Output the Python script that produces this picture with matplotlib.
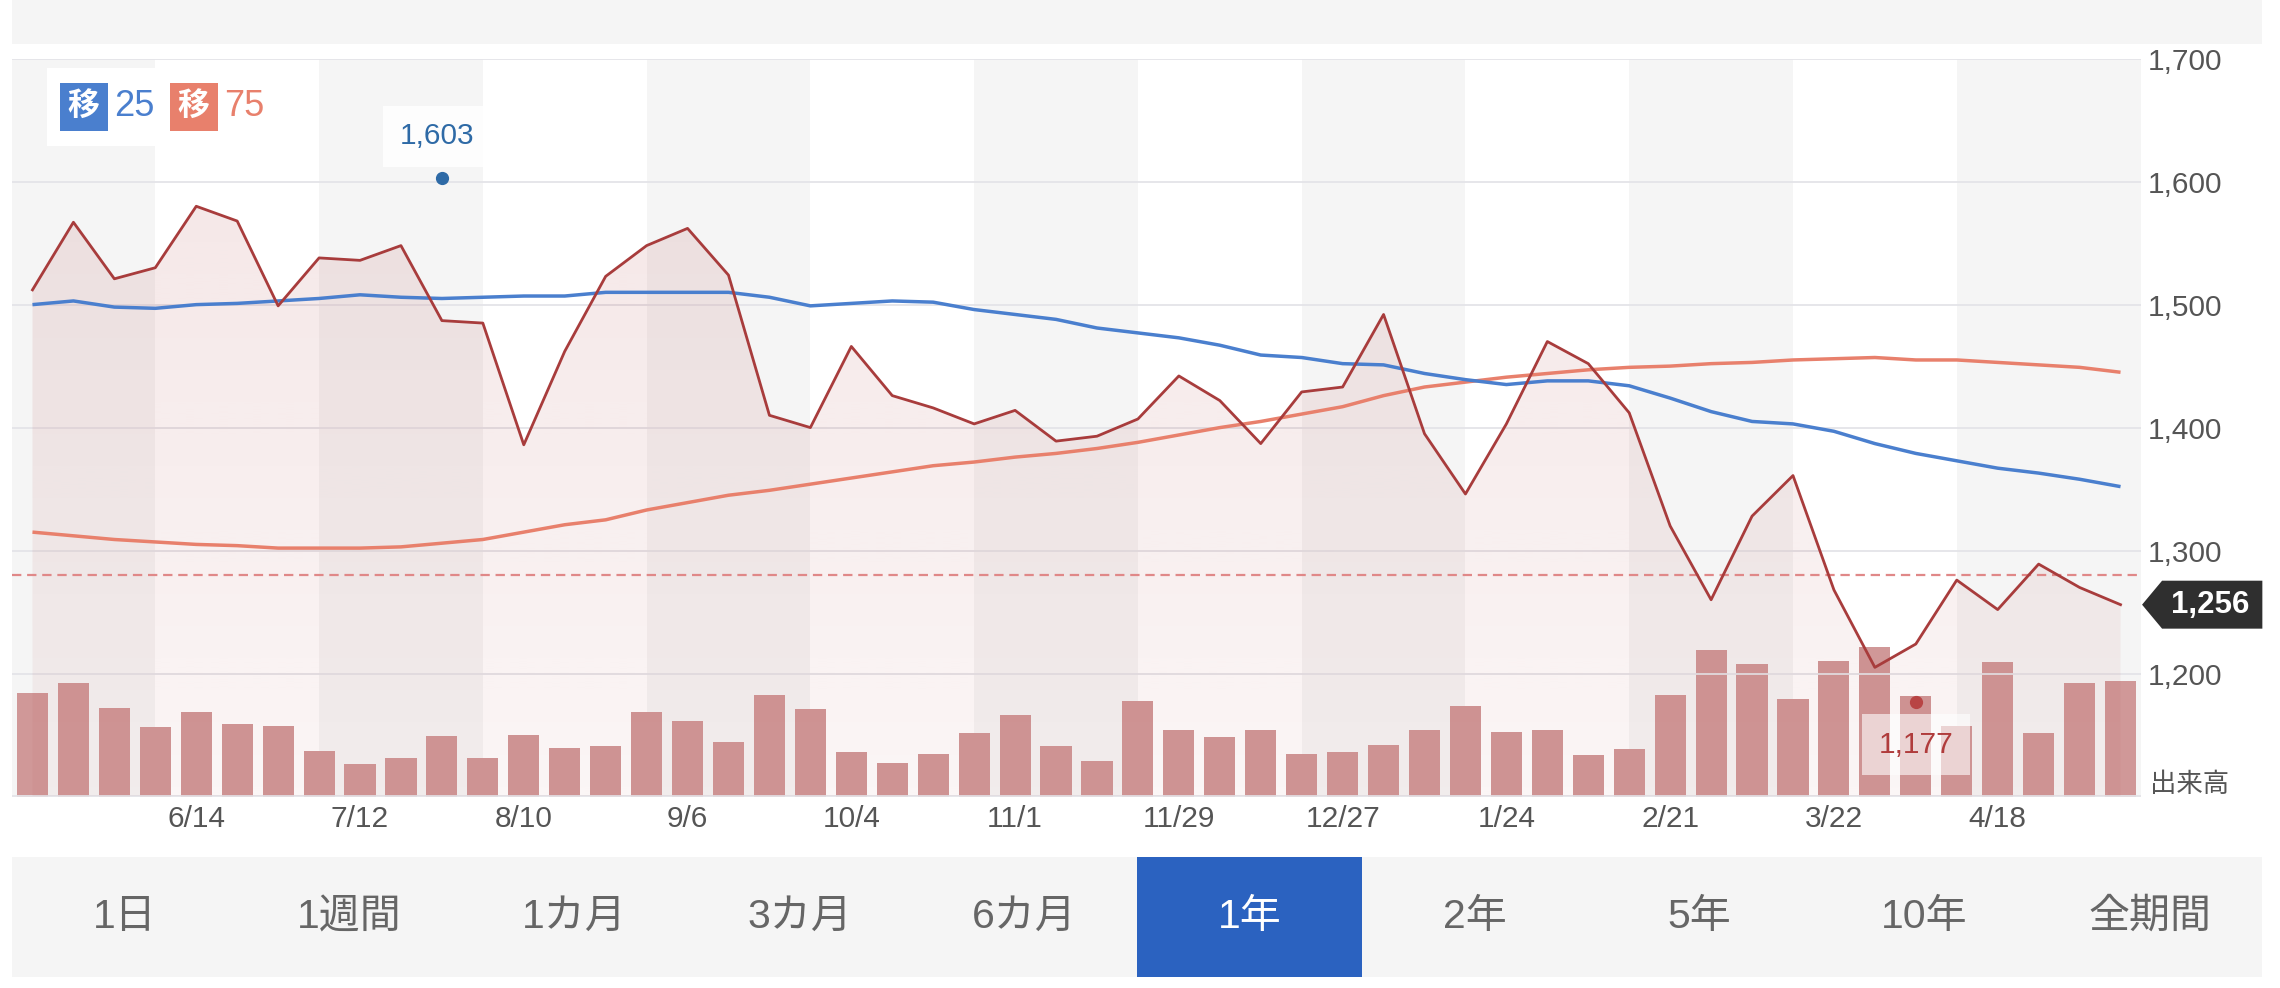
import matplotlib
matplotlib.use("Agg")
import matplotlib.pyplot as plt
import numpy as np
from matplotlib.patches import Rectangle, Polygon
import matplotlib.transforms as mtransforms

plt.rcParams['font.family'] = ['Liberation Sans', 'Noto Sans CJK JP', 'DejaVu Sans']

# ---------------- data ----------------
date_labels = ['6/14', '7/12', '8/10', '9/6', '10/4', '11/1', '11/29',
               '12/27', '1/24', '2/21', '3/22', '4/18']
date_label_idx = [4, 8, 12, 16, 20, 24, 28, 32, 36, 40, 44, 48]

price = [1512, 1567, 1521, 1530, 1580, 1568, 1499, 1538, 1536, 1548, 1487, 1485,
         1386, 1462, 1523, 1548, 1562, 1524, 1410, 1400, 1466, 1426, 1416,
         1403, 1414, 1389, 1393, 1407, 1442, 1422, 1387, 1429, 1433, 1492,
         1395, 1346, 1403, 1470, 1452, 1412, 1320, 1260, 1328, 1361,
         1268, 1205, 1224, 1276, 1252, 1289, 1270, 1256]

ma25 = [1500, 1503, 1498, 1497, 1500, 1501, 1503, 1505, 1508, 1506, 1505, 1506,
        1507, 1507, 1510, 1510, 1510, 1510, 1506, 1499, 1501, 1503, 1502,
        1496, 1492, 1488, 1481, 1477, 1473, 1467, 1459, 1457, 1452, 1451,
        1444, 1439, 1435, 1438, 1438, 1434, 1424, 1413, 1405, 1403,
        1397, 1387, 1379, 1373, 1367, 1363, 1358, 1352]

ma75 = [1315, 1312, 1309, 1307, 1305, 1304, 1302, 1302, 1302, 1303, 1306, 1309,
        1315, 1321, 1325, 1333, 1339, 1345, 1349, 1354, 1359, 1364, 1369,
        1372, 1376, 1379, 1383, 1388, 1394, 1400, 1405, 1411, 1417, 1426,
        1433, 1437, 1441, 1444, 1447, 1449, 1450, 1452, 1453, 1455,
        1456, 1457, 1455, 1455, 1453, 1451, 1449, 1445]

volume = [70, 77, 60, 47, 57, 49, 48, 31, 22, 26, 41, 26, 42, 33, 34, 57, 51, 37,
          69, 59, 30, 23, 29, 43, 55, 34, 24, 65, 45, 40, 45, 29, 30, 35, 45, 61,
          44, 45, 28, 32, 69, 99, 90, 66, 92, 101, 68, 48, 91, 43, 77, 78]

high_idx, high_val = 10, 1603
low_idx, low_val = 46, 1177
ref_price = 1280
last_price = 1256

price_ticks = [1100, 1200, 1300, 1400, 1500, 1600, 1700]
price_tick_labels = ['', '1,200', '1,300', '1,400', '1,500', '1,600', '1,700']

tabs = ['1日', '1週間', '1カ月', '3カ月', '6カ月', '1年', '2年', '5年', '10年', '全期間']
selected_tab = 5

x = np.arange(len(price))

# ---------------- figure ----------------
W, H = 2280, 988
fig = plt.figure(figsize=(W / 100, H / 100), dpi=100)
fig.patch.set_facecolor('white')


def px_rect(x0, y0, x1, y1, **kw):
    r = Rectangle((x0 / W, 1 - y1 / H), (x1 - x0) / W, (y1 - y0) / H,
                  transform=fig.transFigure, **kw)
    fig.patches.append(r)
    return r


# top grey band
px_rect(12, 0, 2262, 44, fc='#f5f5f5', ec='none', zorder=0.5)

ax_left, ax_right, ax_top, ax_bot = 12, 2141, 58.7, 796.5
ax_vol = fig.add_axes([ax_left / W, 1 - ax_bot / H, (ax_right - ax_left) / W,
                       (ax_bot - ax_top) / H])
ax = ax_vol.twinx()

# stripes (every 4 weeks)
edges = [-0.5, 3, 7, 11, 15, 19, 23, 27, 31, 35, 39, 43, 47, 51.5]
for k in range(0, len(edges) - 1, 2):
    ax_vol.axvspan(edges[k], edges[k + 1], color='#f5f5f5', lw=0, zorder=0)

# volume bars
ax_vol.bar(x, volume, width=0.76, color='#d09898', zorder=2, linewidth=0)
ax_vol.set_xlim(-0.5, 51.5)
ax_vol.set_ylim(0, 500)
ax_vol.set_yticks([])
ax_vol.set_xticks(date_label_idx)
ax_vol.set_xticklabels(date_labels)
ax_vol.tick_params(axis='x', length=0, pad=6, labelsize=21.5, labelcolor='#555555')
for s in ax_vol.spines.values():
    s.set_visible(False)

# price axis
ax.set_ylim(1100, 1700)
ax.set_xlim(-0.5, 51.5)
ax.set_yticks(price_ticks)
ax.set_yticklabels(price_tick_labels)
ax.tick_params(axis='y', length=0, pad=5, labelsize=21.5, labelcolor='#555555')
for t in price_ticks:
    ax.axhline(t, color='#e4e4e8', lw=1.3, zorder=0.5)
for s in ax.spines.values():
    s.set_visible(False)

# gradient fill under price
grad = np.zeros((256, 1, 4))
c = np.array([176, 64, 64]) / 255
grad[:, 0, :3] = c
grad[:, 0, 3] = np.linspace(0.14, 0.05, 256)
im = ax.imshow(grad, extent=[-0.5, 51.5, 1100, 1700], aspect='auto',
               origin='upper', zorder=1, interpolation='bilinear')
verts = list(zip(x, price)) + [(x[-1], 1100), (x[0], 1100)]
poly = Polygon(verts, closed=True, transform=ax.transData, fc='none', ec='none')
ax.add_patch(poly)
im.set_clip_path(poly)
ax.set_xlim(-0.5, 51.5)
ax.set_ylim(1100, 1700)

# reference dashed line
ax.axhline(ref_price, color='#e08888', lw=1.6, dashes=(4.2, 2.6), zorder=2.5)

# moving averages and price
ax.plot(x, ma75, color='#e8806c', lw=2.5, zorder=3, solid_capstyle='butt')
ax.plot(x, ma25, color='#4a7fce', lw=2.5, zorder=3, solid_capstyle='butt')
ax.plot(x, price, color='#a83c3c', lw=2.0, zorder=4)

# high / low markers
ax.plot([high_idx], [high_val], 'o', color='#2e6aa6', ms=8.5, zorder=6)
ax.annotate(f'{high_val:,}', xy=(high_idx, high_val), xytext=(-3.5, 30),
            textcoords='offset points', ha='center', va='center',
            fontsize=21.5, color='#2e6aa6', zorder=6,
            bbox=dict(boxstyle='square,pad=0.55', fc='white', ec='none', alpha=0.9))
ax.plot([low_idx], [low_val], 'o', color='#b84444', ms=8.5, zorder=6)
ax.annotate(f'{low_val:,}', xy=(low_idx, low_val), xytext=(0, -31),
            textcoords='offset points', ha='center', va='center',
            fontsize=21.5, color='#b03c3c', zorder=6,
            bbox=dict(boxstyle='square,pad=0.55', fc='white', ec='none', alpha=0.6))

# last price tag
tr = mtransforms.blended_transform_factory(ax.transAxes, ax.transData)
h = 19.5
tag = Polygon([(1.0005, last_price), (1.0099, last_price + h), (1.057, last_price + h),
               (1.057, last_price - h), (1.0099, last_price - h)], closed=True,
              transform=tr, fc='#2f2f2f', ec='none', clip_on=False, zorder=7)
ax.add_patch(tag)
ax.text(1.0325, last_price, f'{last_price:,}', transform=tr, ha='center', va='center',
        color='white', fontsize=22.5, fontweight='bold', zorder=8, clip_on=False)

# 出来高 label
fig.text(2150 / W, 1 - 785 / H, '出来高', ha='left', va='center', fontsize=19,
         color='#555555')

# legend
px_rect(47, 68, 280, 146, fc='white', ec='none', zorder=1)
px_rect(60, 83, 107.6, 130.7, fc='#4a7fce', ec='none', zorder=2)
px_rect(170, 83, 217.6, 130.7, fc='#e8806c', ec='none', zorder=2)
fig.text(83.8 / W, 1 - 107 / H, '移', ha='center', va='center', fontsize=23,
         color='white', fontweight='bold')
fig.text(193.8 / W, 1 - 107 / H, '移', ha='center', va='center', fontsize=23,
         color='white', fontweight='bold')
fig.text(114 / W, 1 - 107 / H, '25', ha='left', va='center', fontsize=26, color='#4a7fce')
fig.text(224 / W, 1 - 107 / H, '75', ha='left', va='center', fontsize=26, color='#e8806c')

# period tabs
px_rect(12, 856.7, 2262, 976.7, fc='#f5f5f5', ec='none', zorder=1)
tab_w = 225
px_rect(12 + tab_w * selected_tab, 856.7, 12 + tab_w * (selected_tab + 1), 976.7,
        fc='#2b62c0', ec='none', zorder=2)
for k, lab in enumerate(tabs):
    cx = 12 + tab_w * (k + 0.5)
    fig.text(cx / W, 1 - 917 / H, lab, ha='center', va='center', fontsize=29.5,
             color='white' if k == selected_tab else '#666666')

fig.savefig('out.png', dpi=100, facecolor='white')
